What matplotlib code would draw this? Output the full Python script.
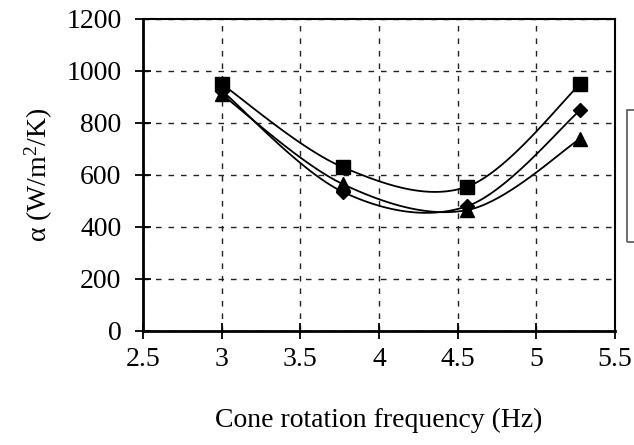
import numpy as np
import matplotlib
matplotlib.use("Agg")
import matplotlib.pyplot as plt
from matplotlib.patches import Rectangle

plt.rcParams['font.family'] = ['Liberation Serif', 'DejaVu Serif']
plt.rcParams['mathtext.fontset'] = 'custom'
plt.rcParams['mathtext.rm'] = 'Liberation Serif'
plt.rcParams['mathtext.it'] = 'Liberation Serif:italic'

# Data
freq = [3.0, 3.77, 4.56, 5.28]
series_square = [950, 630, 555, 950]
series_diamond = [925, 535, 480, 850]
series_triangle = [910, 565, 465, 740]
x_ticks = [2.5, 3, 3.5, 4, 4.5, 5, 5.5]
x_tick_labels = ["2.5", "3", "3.5", "4", "4.5", "5", "5.5"]
y_ticks = [0, 200, 400, 600, 800, 1000, 1200]


def smooth(x, y, n=40):
    """Catmull-Rom (Excel-like) smoothing through the points."""
    x = np.asarray(x, float)
    y = np.asarray(y, float)
    px = np.concatenate([[x[0]], x, [x[-1]]])
    py = np.concatenate([[y[0]], y, [y[-1]]])
    xs, ys = [], []
    t = np.linspace(0, 1, n)
    for i in range(1, len(px) - 2):
        p0 = np.array([px[i], py[i]])
        p3 = np.array([px[i + 1], py[i + 1]])
        c1 = p0 + (p3 - np.array([px[i - 1], py[i - 1]])) / 6.0
        c2 = p3 - (np.array([px[i + 2], py[i + 2]]) - p0) / 6.0
        b = ((1 - t) ** 3)[:, None] * p0 + (3 * (1 - t) ** 2 * t)[:, None] * c1 \
            + (3 * (1 - t) * t ** 2)[:, None] * c2 + (t ** 3)[:, None] * p3
        xs.extend(b[:, 0])
        ys.extend(b[:, 1])
    return np.array(xs), np.array(ys)


fig = plt.figure(figsize=(6.34, 4.45), dpi=100)
ax = fig.add_axes([143 / 634, 1 - 331 / 445, (615 - 143) / 634, (331 - 19) / 445])

for vals, mk, ms in [(series_square, 's', 10),
                     (series_diamond, 'D', 7.5),
                     (series_triangle, '^', 10)]:
    sx, sy = smooth(freq, vals)
    ax.plot(sx, sy, color='black', lw=1.3, zorder=3)
    ax.plot(freq, vals, linestyle='none', marker=mk, markersize=ms,
            color='black', zorder=4)

ax.set_xlim(2.5, 5.5)
ax.set_ylim(0, 1200)
ax.set_xticks(x_ticks)
ax.set_xticklabels(x_tick_labels)
ax.set_yticks(y_ticks)

ax.grid(True, color='#222222', linestyle=(0, (4, 5)), linewidth=1.0)
ax.set_axisbelow(True)

ax.tick_params(axis='both', direction='inout', length=11, width=1.3,
               labelsize=20, colors='black')
ax.tick_params(axis='x', pad=6)
ax.tick_params(axis='y', pad=10)

for s in ['left', 'bottom']:
    ax.spines[s].set_linewidth(2.0)
for s in ['top', 'right']:
    ax.spines[s].set_linewidth(1.5)

ax.set_xlabel('Cone rotation frequency (Hz)', fontsize=20, labelpad=26)
ax.set_ylabel('α (W/m$^{2}$/K)', fontsize=20, labelpad=8)

# Legend box (cut off at right edge)
fig.patches.append(Rectangle((627 / 634, 1 - 242 / 445), 0.05, 132 / 445,
                             transform=fig.transFigure, fill=False,
                             edgecolor='#555555', linewidth=1.2))

fig.savefig('out.png', dpi=100)
